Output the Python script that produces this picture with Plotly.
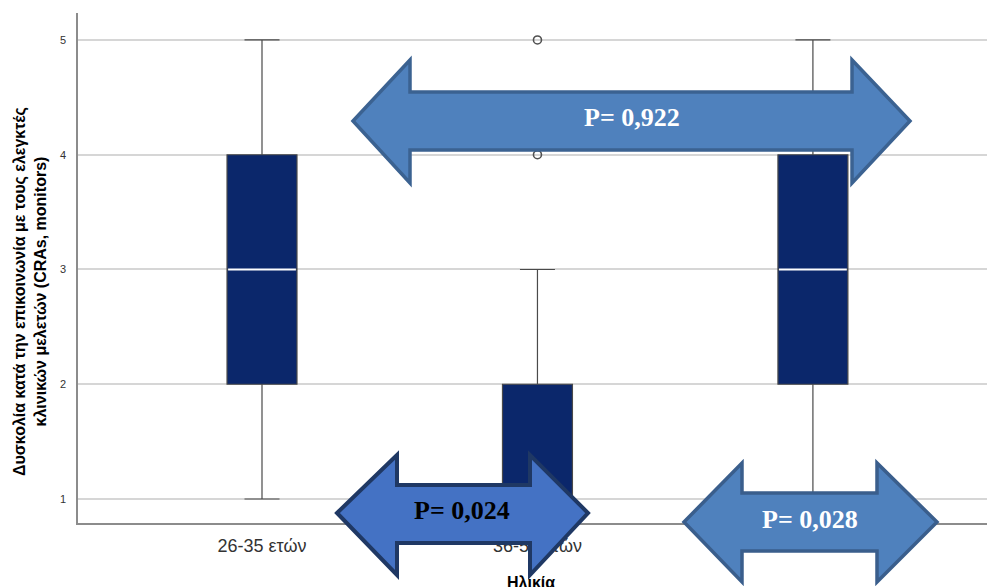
import plotly.graph_objects as go

# Age groups and the five-number summaries of the difficulty score
categories = ["26-35 ετών", "36-50 ετών", "51+ ετών"]
positions = [0, 1, 2]
q1 = [2, 1, 2]
median = [3, 1, 3]
q3 = [4, 2, 4]
lower_fence = [1, 1, 1]
upper_fence = [5, 3, 5]

# Outlying responses (group index, value)
outlier_group = [1, 1]
outlier_value = [4, 5]

y_ticks = [1, 2, 3, 4, 5]

# Pairwise comparison p-values shown on the arrows
p_labels = ["P= 0,922", "P= 0,024", "P= 0,028"]

BOX_WIDTH = 0.254

W, H = 987, 587
ML, MR, MT, MB = 78, 0, 13, 64
PW, PH = W - ML - MR, H - MT - MB


def px_to_paper(px, py):
    return (px - ML) / PW, (H - MB - py) / PH


def arrow_path(xl, xbl, xbr, xr, yc, head_top, head_bot, shaft_top, shaft_bot):
    pts = [
        (xl, yc), (xbl, head_top), (xbl, shaft_top), (xbr, shaft_top),
        (xbr, head_top), (xr, yc), (xbr, head_bot), (xbr, shaft_bot),
        (xbl, shaft_bot), (xbl, head_bot),
    ]
    conv = [px_to_paper(x, y) for x, y in pts]
    return "M " + " L ".join(f"{x:.5f},{y:.5f}" for x, y in conv) + " Z"


fig = go.Figure()

fig.add_trace(go.Box(
    x=positions,
    q1=q1, median=median, q3=q3,
    lowerfence=lower_fence, upperfence=upper_fence,
    width=BOX_WIDTH,
    fillcolor="#0b276b",
    line=dict(color="#4a4a4a", width=1.2),
    whiskerwidth=0.5,
    boxpoints=False,
    hoverinfo="skip",
))

# White median bars drawn across each box
mx, my = [], []
for p, m in zip(positions, median):
    mx += [p - BOX_WIDTH / 2 + 0.004, p + BOX_WIDTH / 2 - 0.004, None]
    my += [m, m, None]
fig.add_trace(go.Scatter(
    x=mx, y=my, mode="lines",
    line=dict(color="white", width=2),
    hoverinfo="skip",
))

fig.add_trace(go.Scatter(
    x=[positions[g] for g in outlier_group], y=outlier_value,
    mode="markers",
    marker=dict(symbol="circle-open", size=8, color="#505050",
                line=dict(width=1.6, color="#505050")),
    hoverinfo="skip",
))

# Double-headed comparison arrows
arrows = [
    dict(geom=(353, 410, 852, 910, 121, 60, 183, 92, 150),
         fill="#4f81bd", line="#3b6291", lw=3.5, text_xy=(632, 117), tcol="white"),
    dict(geom=(337, 397, 530, 588, 513, 455, 575, 485, 543),
         fill="#4472c4", line="#1f3864", lw=4, text_xy=(462, 510), tcol="black"),
    dict(geom=(684, 742, 877, 937, 522, 463, 582, 493, 551),
         fill="#4f81bd", line="#3a5e8c", lw=3.5, text_xy=(810, 519), tcol="white"),
]

shapes = []
annotations = []
for a, label in zip(arrows, p_labels):
    shapes.append(dict(
        type="path", xref="paper", yref="paper",
        path=arrow_path(*a["geom"]),
        fillcolor=a["fill"], line=dict(color=a["line"], width=a["lw"]),
        layer="above",
    ))
    tx, ty = px_to_paper(*a["text_xy"])
    annotations.append(dict(
        x=tx, y=ty, xref="paper", yref="paper", showarrow=False,
        text=f"<b>{label}</b>",
        font=dict(family="Liberation Serif", size=26, color=a["tcol"]),
        xanchor="center", yanchor="middle",
    ))

# Axis titles
tx, ty = px_to_paper(30, 292)
annotations.append(dict(
    x=tx, y=ty, xref="paper", yref="paper", showarrow=False,
    text="<b>Δυσκολία κατά την επικοινωνία με τους ελεγκτές<br>κλινικών μελετών (CRAs, monitors)</b>",
    textangle=-90,
    font=dict(family="Liberation Sans", size=16, color="black"),
    xanchor="center", yanchor="middle",
))
tx, ty = px_to_paper(531, 582)
annotations.append(dict(
    x=tx, y=ty, xref="paper", yref="paper", showarrow=False,
    text="<b>Ηλικία</b>",
    font=dict(family="Liberation Sans", size=16, color="black"),
    xanchor="center", yanchor="middle",
))

fig.update_layout(
    width=W, height=H,
    margin=dict(l=ML, r=MR, t=MT, b=MB, pad=0),
    plot_bgcolor="white", paper_bgcolor="white",
    showlegend=False,
    shapes=shapes,
    annotations=annotations,
    font=dict(family="Liberation Sans"),
    xaxis=dict(
        range=[-0.668, 2.632],
        tickvals=positions, ticktext=categories,
        showgrid=False, zeroline=False,
        showline=True, linecolor="#8c8c8c", linewidth=1.5,
        ticks="outside", ticklen=6, tickcolor="rgba(0,0,0,0)",
        tickfont=dict(size=18, color="#333333"),
    ),
    yaxis=dict(
        range=[0.791, 5.235],
        tickvals=y_ticks,
        showgrid=True, gridcolor="#d6d6d6", gridwidth=1.5,
        zeroline=False,
        showline=True, linecolor="#8c8c8c", linewidth=1.5,
        ticks="outside", ticklen=8, tickcolor="rgba(0,0,0,0)",
        tickfont=dict(size=11, color="#333333"),
    ),
)

fig.write_html("out.html")
